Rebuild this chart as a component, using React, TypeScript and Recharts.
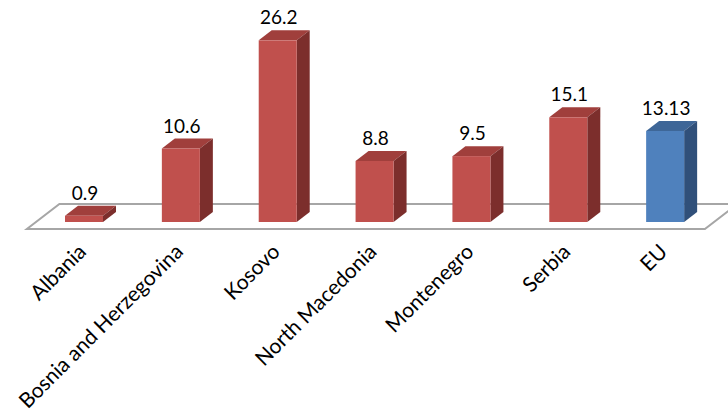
import { BarChart, Bar, XAxis, YAxis, ReferenceLine, LabelList } from "recharts";

const countries = [
  "Albania",
  "Bosnia and Herzegovina",
  "Kosovo",
  "North Macedonia",
  "Montenegro",
  "Serbia",
  "EU",
];
const shares = [0.9, 10.6, 26.2, 8.8, 9.5, 15.1, 13.13];
const blueCountries = ["EU"];

const data = countries.map((name, i) => ({ name, value: shares[i] }));

// perspective offset of the 3D depth
const DX = 13;
const DY = 10;
const FONT = "Lato, 'Open Sans', sans-serif";

function Bar3D(props: any) {
  const { x, y, width, height, payload } = props;
  const blue = blueCountries.includes(payload.name);
  const front = blue ? "#4F81BD" : "#C0504D";
  const top = blue ? "#3E6697" : "#A03F3C";
  const side = blue ? "#30507A" : "#7C2E2C";
  const r = x + width;
  const b = y + height;
  return (
    <g>
      <polygon
        points={`${x},${y} ${r},${y} ${r + DX},${y - DY} ${x + DX},${y - DY}`}
        fill={top}
      />
      <polygon
        points={`${r},${y} ${r + DX},${y - DY} ${r + DX},${b - DY} ${r},${b}`}
        fill={side}
      />
      <rect x={x} y={y} width={width} height={height} fill={front} />
    </g>
  );
}

function Floor(props: any) {
  const { x1, y1, x2 } = props;
  const f = -0.7;
  const k = 1.8;
  const pts = [
    [x1 + DX * f, y1 - DY * f],
    [x2 + DX * f, y1 - DY * f],
    [x2 + DX * k, y1 - DY * k],
    [x1 + DX * k, y1 - DY * k],
  ]
    .map((p) => p.join(","))
    .join(" ");
  return <polygon points={pts} fill="#FFFFFF" stroke="#A6A6A6" strokeWidth={2} />;
}

function ValueLabel(props: any) {
  const { x, y, width, value } = props;
  return (
    <text
      x={x + width / 2 + 1}
      y={y - 16}
      textAnchor="middle"
      fontSize={19}
      fontFamily={FONT}
      fill="#000"
    >
      {value}
    </text>
  );
}

function CountryTick(props: any) {
  const { x, y, payload } = props;
  const tx = x + 3;
  const ty = y + 31;
  return (
    <text
      x={tx}
      y={ty}
      transform={`rotate(-45 ${tx} ${ty})`}
      textAnchor="end"
      fontSize={21}
      fontFamily={FONT}
      fill="#000"
    >
      {payload.value}
    </text>
  );
}

export default function App() {
  return (
    <div style={{ position: "absolute", left: 0, top: 0 }}>
      <BarChart
        width={728}
        height={414}
        data={data}
        margin={{ top: 14, right: 14, left: 36, bottom: 0 }}
        barSize={38}
      >
        <XAxis
          dataKey="name"
          height={192}
          axisLine={false}
          tickLine={false}
          tickSize={0}
          tickMargin={0}
          interval={0}
          tick={<CountryTick />}
        />
        <YAxis hide domain={[0, 30]} />
        <ReferenceLine y={0} shape={<Floor />} zIndex={-50} ifOverflow="visible" />
        <Bar dataKey="value" shape={<Bar3D />} isAnimationActive={false}>
          <LabelList dataKey="value" content={<ValueLabel />} />
        </Bar>
      </BarChart>
    </div>
  );
}
